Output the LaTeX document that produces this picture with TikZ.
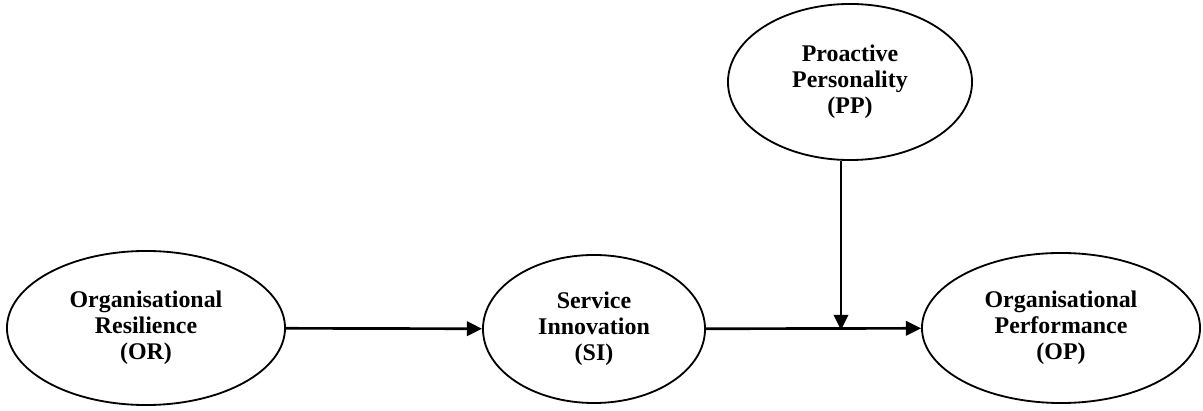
\documentclass[tikz,border=0pt]{standalone}
\usepackage{fontspec}
\setmainfont{Liberation Serif}
\usetikzlibrary{arrows.meta,shapes.geometric}

\begin{document}
\begin{tikzpicture}[
  x=0.025cm, y=-0.025cm,
  font=\fontsize{17}{18.5}\selectfont\bfseries,
  var/.style={draw, ellipse, line width=1.3pt, inner sep=0pt, align=center},
  arr/.style={-{Triangle[length=3.8mm,width=3.6mm]}, line width=1.9pt}
]
\useasboundingbox (0,0) rectangle (1203,411);

\node[var, minimum width=6.95cm, minimum height=3.85cm] (or) at (146,328) {Organisational\\Resilience\\(OR)};
\node[var, minimum width=5.55cm, minimum height=3.7cm] (si) at (594,329) {Service\\Innovation\\(SI)};
\node[var, minimum width=6.95cm, minimum height=3.75cm] (op) at (1061,328) {Organisational\\Performance\\(OP)};
\node[var, minimum width=6.1cm, minimum height=3.9cm] (pp) at (850,82) {Proactive\\Personality\\(PP)};
\coordinate (mid) at (841,330);

\draw[arr] (or) -- (si);
\draw[arr] (si) -- (op);
\draw[arr] (pp.south -| mid) -- (mid);
\end{tikzpicture}
\end{document}
